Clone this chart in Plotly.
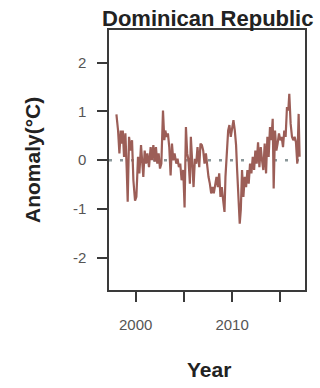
import plotly.graph_objects as go

title_text = "Dominican Republic"
x_title = "Year"
y_title = "Anomaly(°C)"

years = [
    1998.00, 1998.17, 1998.31, 1998.45, 1998.55, 1998.66, 1998.79, 1998.93,
    1999.07, 1999.17, 1999.31, 1999.48, 1999.62, 1999.76, 1999.93, 2000.07,
    2000.24, 2000.38, 2000.55, 2000.69, 2000.79, 2000.93, 2001.07, 2001.21,
    2001.38, 2001.55, 2001.69, 2001.83, 2001.97, 2002.10, 2002.24, 2002.38,
    2002.52, 2002.66, 2002.83, 2002.97, 2003.07, 2003.21, 2003.34, 2003.48,
    2003.62, 2003.76, 2003.90, 2004.03, 2004.21, 2004.34, 2004.48, 2004.62,
    2004.76, 2004.93, 2005.07, 2005.21, 2005.34, 2005.48, 2005.62, 2005.72,
    2005.86, 2006.00, 2006.14, 2006.28, 2006.41, 2006.59, 2006.72, 2006.86,
    2007.00, 2007.14, 2007.28, 2007.41, 2007.55, 2007.69, 2007.83, 2007.97,
    2008.10, 2008.24, 2008.38, 2008.52, 2008.66, 2008.79, 2008.93, 2009.07,
    2009.21, 2009.31, 2009.45, 2009.59, 2009.72, 2009.86, 2010.00, 2010.14,
    2010.28, 2010.41, 2010.52, 2010.66, 2010.79, 2010.90, 2011.03, 2011.17,
    2011.31, 2011.45, 2011.59, 2011.72, 2011.86, 2012.00, 2012.14, 2012.28,
    2012.41, 2012.55, 2012.69, 2012.83, 2012.97, 2013.10, 2013.24, 2013.38,
    2013.52, 2013.66, 2013.79, 2013.93, 2014.07, 2014.21, 2014.31, 2014.45,
    2014.59, 2014.72, 2014.86, 2015.00, 2015.14, 2015.28, 2015.41, 2015.55,
    2015.69, 2015.83, 2015.93, 2016.07, 2016.21, 2016.34, 2016.48, 2016.62,
    2016.76, 2016.90, 2017.00,
]

anomaly = [
    0.94, 0.61, 0.14, 0.61, 0.34, 0.61, 0.07, 0.55,
    -0.20, -0.85, 0.48, 0.20, 0.41, -0.41, -0.83, -0.75,
    0.07, -0.27, 0.31, -0.07, -0.34, 0.20, -0.07, 0.14,
    -0.14, 0.27, 0.00, 0.31, -0.03, 0.27, -0.07, 0.14,
    -0.17, -0.07, 1.02, 0.41, 0.61, 0.48, 0.55, 0.27,
    -0.31, 0.34, 0.00, 0.14, -0.07, 0.03, -0.14, -0.07,
    -0.41, -0.20, -0.97, 0.68, 0.14, 0.00, -0.48, 0.48,
    -0.07, -0.55, 0.03, -0.07, 0.27, -0.14, 0.34, 0.31,
    0.20, -0.07, 0.14, -0.14, -0.34, -0.48, -0.68, -0.55,
    -0.68, -0.51, -0.34, -0.55, -0.27, -0.75, -0.55, -0.82,
    -1.06, -0.34, 0.20, 0.61, 0.72, 0.48, 0.65, 0.82,
    0.61, 0.31, -0.20, -0.75, -1.30, -1.02, -0.20, -0.75,
    -0.34, -0.55, -0.20, -0.48, -0.07, -0.27, 0.07, -0.20,
    0.20, -0.07, 0.37, -0.14, 0.27, 0.00, -0.20, 0.34,
    -0.27, 0.48, 0.07, 0.68, 0.41, 0.85, -0.58, 0.61,
    0.20, 0.34, 0.55, 0.41, 0.48, 0.27, 0.61, 0.48,
    1.09, 1.02, 1.36, 0.75, 0.48, 0.41, 0.48, 0.37,
    -0.07, 0.95, 0.07,
]

x_ticks = [2000, 2005, 2010, 2015]
x_tick_labels = ["2000", "", "2010", ""]
y_ticks = [-2, -1, 0, 1, 2]
y_tick_labels = ["-2", "-1", "0", "1", "2"]
zero_level = [0, 0]
zero_x = [1997.23, 2017.56]

fig = go.Figure()
fig.add_trace(go.Scatter(
    x=zero_x, y=zero_level, mode="lines",
    line=dict(color="#8a9799", width=2.5, dash="3px,8px"),
    hoverinfo="skip", showlegend=False,
))
fig.add_trace(go.Scatter(
    x=years, y=anomaly, mode="lines",
    line=dict(color="#9c5e57", width=2.2),
    showlegend=False,
))

axis_common = dict(
    showline=True, linecolor="#3a3a3a", linewidth=1.5, mirror=True,
    showgrid=False, zeroline=False, ticks="outside", ticklen=10,
    tickwidth=1.5, tickcolor="#3a3a3a",
    tickfont=dict(family="Liberation Sans, Arial", size=15, color="#555555"),
)

fig.update_xaxes(range=[1997.23, 2017.56], tickvals=x_ticks,
                 ticktext=x_tick_labels, ticklabelstandoff=10, **axis_common)
fig.update_yaxes(range=[-2.66, 2.67], tickvals=y_ticks,
                 ticktext=y_tick_labels, ticklabelstandoff=8, **axis_common)

fig.add_annotation(text=f"<b>{title_text}</b>", xref="paper", yref="paper",
                   x=0.505, y=1.046, showarrow=False, xanchor="center", yanchor="middle",
                   font=dict(family="Liberation Sans, Arial", size=22, color="#222222"))
fig.add_annotation(text=f"<b>{x_title}</b>", xref="paper", yref="paper",
                   x=0.51, y=-0.304, showarrow=False, xanchor="center", yanchor="middle",
                   font=dict(family="Liberation Sans, Arial", size=21, color="#222222"))
fig.add_annotation(text=f"<b>{y_title}</b>", xref="paper", yref="paper",
                   x=-0.393, y=0.5, showarrow=False, xanchor="center", yanchor="middle",
                   textangle=-90,
                   font=dict(family="Liberation Sans, Arial", size=21, color="#222222"))

fig.update_layout(
    width=320, height=388,
    margin=dict(l=109, r=15, t=30, b=98),
    paper_bgcolor="white", plot_bgcolor="white",
)

fig.write_html(
    "out.html",
    config={"displayModeBar": False},
    post_script="document.body.style.margin='0';document.body.style.overflow='hidden';",
)
